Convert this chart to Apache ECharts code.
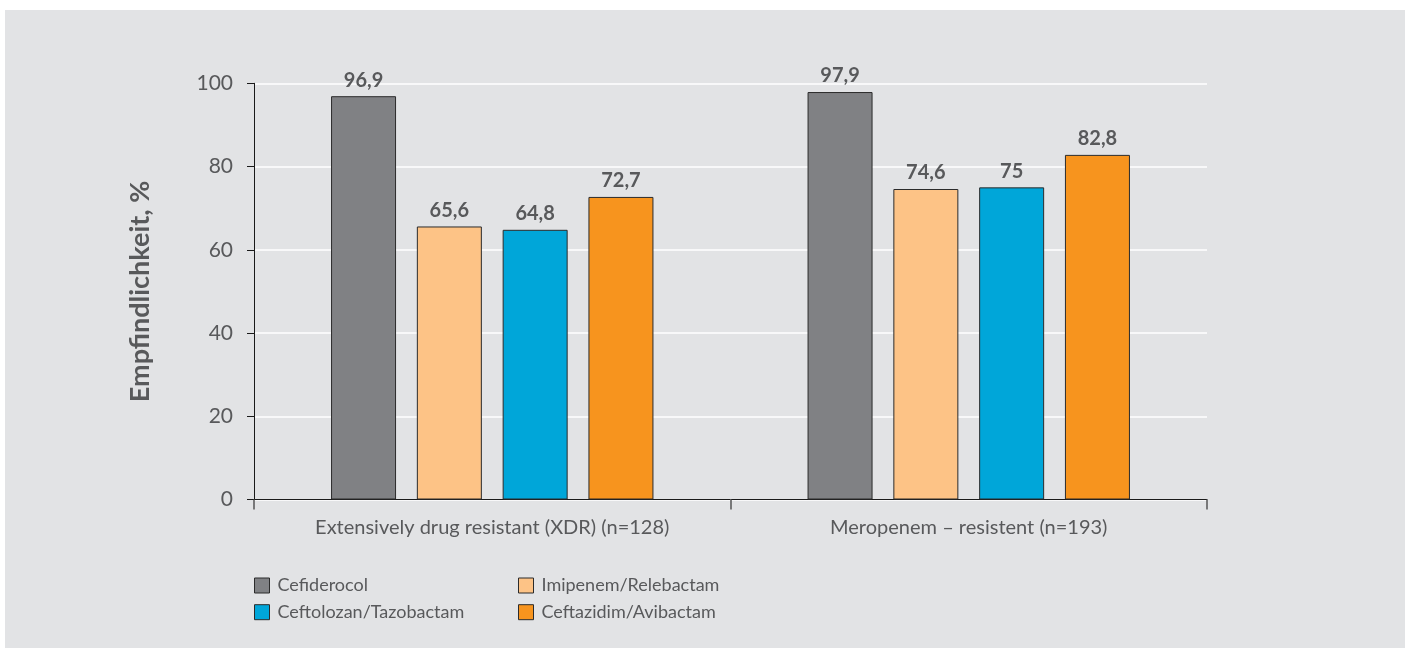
<!DOCTYPE html>
<html>
<head>
<meta charset="utf-8">
<script src="https://cdn.jsdelivr.net/npm/echarts@6/dist/echarts.min.js"></script>
<style>
  html, body { margin: 0; padding: 0; background: #ffffff; }
  #panel { position: absolute; left: 5px; top: 10px; right: 0; bottom: 0; background: #e2e3e5; }
  #chart { position: absolute; left: 0; top: 0; width: 1405px; height: 648px; }
</style>
</head>
<body>
<div id="panel"></div>
<div id="chart"></div>
<script>
// Susceptibility (%) of resistant isolates per antibiotic
const categories = ['Extensively drug resistant (XDR) (n=128)', 'Meropenem – resistent (n=193)'];
const seriesNames = ['Cefiderocol', 'Imipenem/Relebactam', 'Ceftolozan/Tazobactam', 'Ceftazidim/Avibactam'];
const cefiderocol = [96.9, 97.9];
const imipenemRelebactam = [65.6, 74.6];
const ceftolozanTazobactam = [64.8, 75];
const ceftazidimAvibactam = [72.7, 82.8];
const yTicks = [0, 20, 40, 60, 80, 100];

const colors = ['#808184', '#fdc386', '#00a6d9', '#f7941e'];
const values = [cefiderocol, imipenemRelebactam, ceftolozanTazobactam, ceftazidimAvibactam];
const textColor = '#58595b';
const font = 'Lato, "Open Sans", sans-serif';

const chart = echarts.init(document.getElementById('chart'), null, { renderer: 'canvas' });

const series = seriesNames.map((name, i) => ({
  name: name,
  type: 'bar',
  data: values[i],
  barWidth: 65,
  barGap: '32%',
  itemStyle: { color: colors[i], borderColor: '#2b2b2b', borderWidth: 1 },
  label: {
    show: true,
    position: 'top',
    distance: 6,
    color: textColor,
    fontFamily: font,
    fontWeight: 'bold',
    fontSize: 20,
    formatter: p => String(p.value).replace('.', ',')
  }
}));

const legendCommon = {
  orient: 'vertical',
  icon: 'rect',
  itemWidth: 15,
  itemHeight: 15,
  itemGap: 8.7,
  textStyle: { color: textColor, fontFamily: font, fontSize: 18, lineHeight: 18, padding: [0, 0, 0, 3] },
  itemStyle: { borderColor: '#2b2b2b', borderWidth: 1 },
  top: 571.5
};

chart.setOption({
  backgroundColor: 'transparent',
  animation: false,
  textStyle: { fontFamily: font },
  legend: [
    Object.assign({}, legendCommon, { left: 249, data: [seriesNames[0], seriesNames[2]] }),
    Object.assign({}, legendCommon, { left: 513, data: [seriesNames[1], seriesNames[3]] })
  ],
  grid: { left: 254, right: 198, top: 83.3, bottom: 148.5, containLabel: false },
  xAxis: {
    type: 'category',
    data: categories,
    axisLine: { lineStyle: { color: '#1a1a1a', width: 1 } },
    axisTick: { show: true, length: 10, interval: 0, lineStyle: { color: '#555', width: 1.5 } },
    axisLabel: { color: textColor, fontFamily: font, fontSize: 20, margin: 18, interval: 0 }
  },
  yAxis: {
    type: 'value',
    min: yTicks[0],
    max: yTicks[yTicks.length - 1],
    interval: yTicks[1] - yTicks[0],
    name: 'Empfindlichkeit, %',
    nameLocation: 'middle',
    nameGap: 100,
    nameRotate: 90,
    nameTextStyle: { color: textColor, fontFamily: font, fontWeight: 'bold', fontSize: 27 },
    axisLine: { show: true, lineStyle: { color: '#1a1a1a', width: 1 } },
    axisTick: { show: true, length: 7, lineStyle: { color: '#1a1a1a', width: 1 } },
    axisLabel: { color: textColor, fontFamily: font, fontSize: 21, margin: 21 },
    splitLine: { show: true, lineStyle: { color: '#ffffff', width: 1.5 } }
  },
  series: series
});
</script>
</body>
</html>
